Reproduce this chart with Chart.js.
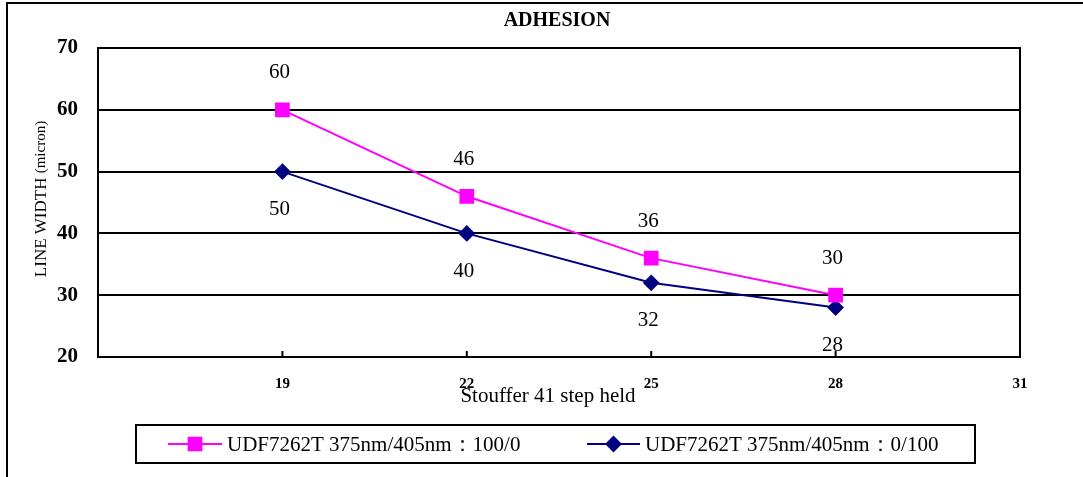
<!DOCTYPE html>
<html>
<head>
<meta charset="utf-8">
<script src="https://cdn.jsdelivr.net/npm/chart.js@4/dist/chart.umd.min.js"></script>
<style>
html,body{margin:0;padding:0;background:#fff;}
#wrap{width:1083px;height:477px;position:relative;}
</style>
</head>
<body>
<div id="wrap"><canvas id="chart"></canvas></div>
<script>
// data
const steps = [19, 22, 25, 28];
const seriesA = [60, 46, 36, 30];
const seriesB = [50, 40, 32, 28];
const labelA = "UDF7262T 375nm/405nm\uFF1A100/0";
const labelB = "UDF7262T 375nm/405nm\uFF1A0/100";
const xTicks = [19, 22, 25, 28, 31];
const yTicks = [20, 30, 40, 50, 60, 70];

const SERIF = "'Liberation Serif','Times New Roman',serif";

const toPoints = (vals) => vals.map((v, i) => ({x: steps[i], y: v}));

// frame, title, axis titles, value labels, legend box
const decor = {
  id: "decor",
  beforeDatasetsDraw(chart) {
    const {ctx, chartArea: a, scales} = chart;
    ctx.save();
    // small inward tick marks on the x axis
    ctx.strokeStyle = "#000";
    ctx.lineWidth = 2;
    xTicks.forEach(t => {
      const px = scales.x.getPixelForValue(t);
      ctx.beginPath();
      ctx.moveTo(px, a.bottom);
      ctx.lineTo(px, a.bottom - 6);
      ctx.stroke();
    });
    ctx.strokeRect(a.left, a.top, a.right - a.left, a.bottom - a.top);
    ctx.restore();
  },
  afterDraw(chart) {
    const {ctx} = chart;
    ctx.save();
    // outer frame
    ctx.strokeStyle = "#000";
    ctx.lineWidth = 2;
    ctx.beginPath();
    ctx.moveTo(7, 477);
    ctx.lineTo(7, 3);
    ctx.lineTo(1083, 3);
    ctx.stroke();

    ctx.fillStyle = "#000";
    ctx.textAlign = "center";
    ctx.textBaseline = "middle";
    ctx.font = "bold 20px " + SERIF;
    ctx.fillText("ADHESION", 557, 21);

    ctx.font = "21px " + SERIF;
    ctx.fillText("Stouffer 41 step held", 548, 396);

    // rotated y title
    ctx.save();
    ctx.translate(42, 199);
    ctx.rotate(-Math.PI / 2);
    ctx.textAlign = "left";
    const f1 = "17px " + SERIF, f2 = "15px " + SERIF;
    ctx.font = f1;
    const w1 = ctx.measureText("LINE WIDTH ").width;
    ctx.font = f2;
    const w2 = ctx.measureText("(micron)").width;
    const sx = -(w1 + w2) / 2;
    ctx.font = f1;
    ctx.fillText("LINE WIDTH ", sx, 0);
    ctx.font = f2;
    ctx.fillText("(micron)", sx + w1, -1);
    ctx.restore();

    // value labels
    ctx.font = "21px " + SERIF;
    chart.data.datasets.forEach((ds, di) => {
      const meta = chart.getDatasetMeta(di);
      meta.data.forEach((pt, i) => {
        const dy = di === 0 ? -37 : 38;
        ctx.fillText(String(ds.data[i].y), pt.x - 3, pt.y + dy);
      });
    });

    // legend
    ctx.lineWidth = 2;
    ctx.strokeRect(136, 425, 839, 38);
    const items = [
      {x0: 168, x1: 222, tx: 227},
      {x0: 587, x1: 640, tx: 645}
    ];
    chart.data.datasets.forEach((ds, di) => {
      const it = items[di];
      const y = 444;
      ctx.strokeStyle = ds.borderColor;
      ctx.lineWidth = 2;
      ctx.beginPath();
      ctx.moveTo(it.x0, y);
      ctx.lineTo(it.x1, y);
      ctx.stroke();
      Chart.helpers.drawPoint(ctx, {
        pointStyle: ds.pointStyle,
        radius: ds.pointRadius,
        borderWidth: 1
      }, (it.x0 + it.x1) / 2, y);
      ctx.fillStyle = ds.pointBackgroundColor;
      ctx.strokeStyle = ds.pointBorderColor;
      ctx.fill();
      ctx.fillStyle = "#000";
      ctx.textAlign = "left";
      ctx.font = "21px " + SERIF;
      ctx.fillText(ds.label, it.tx, y + 1);
    });
    ctx.restore();
  }
};

new Chart(document.getElementById("chart"), {
  type: "line",
  data: {
    datasets: [
      {
        label: labelA,
        data: toPoints(seriesA),
        borderColor: "#FF00FF",
        backgroundColor: "#FF00FF",
        pointBackgroundColor: "#FF00FF",
        pointBorderColor: "#FF00FF",
        pointStyle: "rect",
        pointRadius: 9,
        borderWidth: 2
      },
      {
        label: labelB,
        data: toPoints(seriesB),
        borderColor: "#000080",
        backgroundColor: "#000080",
        pointBackgroundColor: "#000080",
        pointBorderColor: "#000080",
        pointStyle: "rectRot",
        pointRadius: 7,
        borderWidth: 2
      }
    ]
  },
  options: {
    responsive: true,
    maintainAspectRatio: false,
    animation: false,
    layout: {padding: {top: 48, right: 63, bottom: 0, left: 0}},
    plugins: {
      legend: {display: false},
      title: {display: false},
      tooltip: {enabled: false}
    },
    scales: {
      x: {
        type: "linear",
        min: 16,
        max: 31,
        afterBuildTicks: (s) => { s.ticks = xTicks.map(v => ({value: v})); },
        afterFit: (s) => { s.height = 120; },
        grid: {display: false, drawTicks: false},
        border: {display: false},
        ticks: {
          padding: 18,
          color: "#000",
          maxRotation: 0,
          font: {family: SERIF, size: 15, weight: "bold"}
        }
      },
      y: {
        min: 20,
        max: 70,
        afterBuildTicks: (s) => { s.ticks = yTicks.map(v => ({value: v})); },
        afterFit: (s) => { s.width = 98; },
        grid: {color: "#000", lineWidth: 2, drawTicks: false},
        border: {display: false},
        ticks: {
          padding: 20,
          color: "#000",
          font: {family: SERIF, size: 21, weight: "bold"}
        }
      }
    }
  },
  plugins: [decor]
});
</script>
</body>
</html>
